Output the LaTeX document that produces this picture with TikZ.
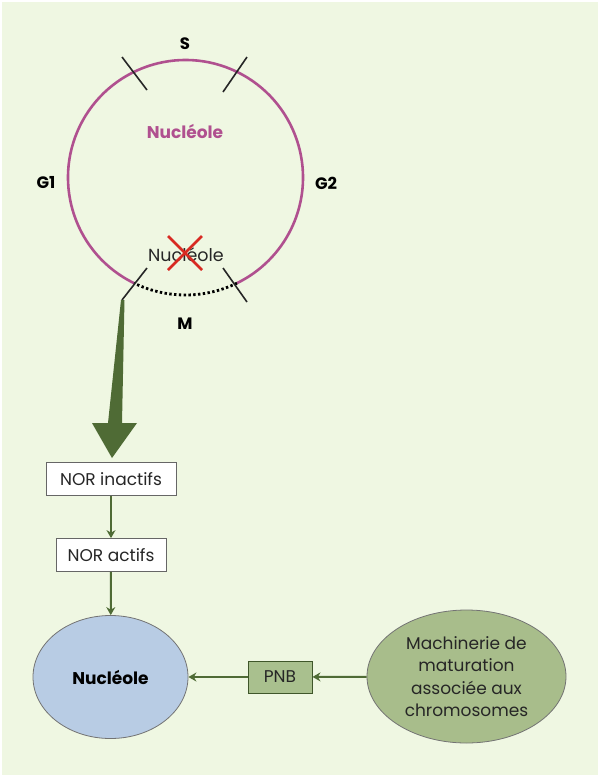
\documentclass[tikz,border=0pt]{standalone}
\usepackage{fontspec}
\setmainfont{Poppins}
\usetikzlibrary{arrows.meta,shapes.geometric}
\definecolor{bg}{HTML}{EFF7E2}
\definecolor{cyclecol}{HTML}{B0508F}
\definecolor{arrowgreen}{HTML}{4F6B35}
\definecolor{nucblue}{HTML}{B8CCE4}
\definecolor{olive}{HTML}{A8BD8B}
\definecolor{pnbfill}{HTML}{A9C08E}
\definecolor{crossred}{HTML}{D82A22}
\tikzset{
  phase/.style={font=\fontsize{16.5}{18}\selectfont\bfseries, text=black},
  tick/.style={draw=black!85, line width=1.6pt},
  norbox/.style={draw=black!60, fill=white, line width=0.8pt, minimum height=33pt, inner xsep=4pt, font=\fontsize{17}{19}\selectfont, text=black!85},
  link/.style={draw=arrowgreen, line width=2pt, -{Stealth[length=8pt,width=9pt]}},
  bignode/.style={ellipse, draw=black!55, line width=0.8pt, inner sep=0pt},
}
\begin{document}
\begin{tikzpicture}[x=1pt,y=-1pt]
\useasboundingbox (0,0) rectangle (600,777);
\fill[white] (0,0) rectangle (600,777);
\fill[bg] (2,2) rectangle (598,775);
% cell cycle circle
\coordinate (c) at (185.5,177.5);
\draw[cyclecol, line width=2.6pt] (c) ++(116:117.5) arc[start angle=116, end angle=424, radius=117.5];
\draw[black, line width=2.8pt, dash pattern=on 2.4pt off 2.4pt] (c) ++(64:117.5) arc[start angle=64, end angle=116, radius=117.5];
% ticks
\draw[tick] (122,57) -- (147,90);
\draw[tick] (247,57) -- (223,92);
\draw[tick] (147,268) -- (122,300);
\draw[tick] (223,268) -- (247,302);
\coordinate (mstart) at (122.5,300);
% labels
\node[phase] (S) at (185,44) {S};
\node[phase] (G1) at (46,183) {G1};
\node[phase] (G2) at (326,183) {G2};
\node[phase] (M) at (185,324) {M};
\node[font=\fontsize{17}{19}\selectfont\bfseries, text=cyclecol] (nuctop) at (185,131) {Nucléole};
\node[font=\fontsize{17.5}{19}\selectfont, text=black!85] (nucx) at (186,255) {Nucléole};
\draw[crossred, line width=2.6pt] (168,236) -- (202,270) (202,236) -- (168,270);
% big arrow
\fill[arrowgreen] (121,300) -- (124.5,300) -- (122,423) -- (137,423) -- (112,458) -- (92,423) -- (108,423) -- cycle;
% boxes
\node[norbox, minimum width=130pt] (nori) at (111,479) {NOR inactifs};
\node[norbox, minimum width=110pt] (nora) at (111,555) {NOR actifs};
\node[bignode, fill=nucblue, minimum width=155pt, minimum height=123pt, font=\fontsize{17}{19}\selectfont\bfseries] (nuc) at (110.5,677) {Nucléole};
\node[draw=arrowgreen!80!black, fill=pnbfill, line width=1pt, minimum width=64pt, minimum height=32pt, inner sep=0pt, font=\fontsize{17}{19}\selectfont, text=black!85] (pnb) at (280,677) {PNB};
\node[bignode, fill=olive, minimum width=199pt, minimum height=133pt, align=center, font=\fontsize{17}{22.5}\selectfont, text=black!85] (mach) at (466.5,676.5) {Machinerie de\\maturation\\associée aux\\chromosomes};
% connectors
\draw[link] (nori) -- (nora);
\draw[link] (nora) -- (nuc);
\draw[link] (mach) -- (pnb);
\draw[link] (pnb) -- (nuc);
\end{tikzpicture}
\end{document}
